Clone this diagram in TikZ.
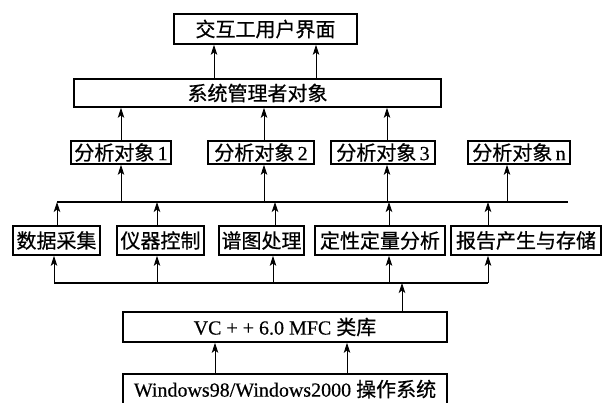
\documentclass[tikz,border=0pt]{standalone}
\usepackage{fontspec}
\setmainfont{Liberation Serif}
\newfontfamily\cjk[FakeBold=0.6]{Noto Sans CJK SC}
\newfontfamily\latinb[FakeBold=0.4]{Liberation Serif}
\usetikzlibrary{arrows.meta}
\begin{document}
\begin{tikzpicture}[x=1pt,y=-1pt,
  box/.style={draw, line width=1.7pt, inner sep=0pt, fill=white,
    font=\fontsize{20}{20}\selectfont\cjk},
  arr/.style={line width=0.8pt, -{Stealth[length=10pt,width=6.5pt,inset=2.5pt]}},
  busline/.style={line width=1.4pt}]
\clip (0,0) rectangle (604,402);
\fill[white] (0,0) rectangle (604,402);
% boxes
\node[box, minimum width=183pt, minimum height=30pt] (top) at (265.5,29) {交互工用户界面};
\node[box, minimum width=367pt, minimum height=28pt] (sys) at (257.5,93) {系统管理者对象};
\node[box, minimum width=100pt, minimum height=23pt] (A1) at (121,152.5) {分析对象\,{\latinb 1}};
\node[box, minimum width=106pt, minimum height=23pt] (A2) at (261,152.5) {分析对象\,{\latinb 2}};
\node[box, minimum width=104pt, minimum height=23pt] (A3) at (383,152.5) {分析对象\,{\latinb 3}};
\node[box, minimum width=102pt, minimum height=23pt] (An) at (519,152.5) {分析对象\,{\latinb n}};
\node[box, minimum width=87pt, minimum height=29pt] (B1) at (56.5,240.5) {数据采集};
\node[box, minimum width=87pt, minimum height=29pt] (B2) at (160.5,240.5) {仪器控制};
\node[box, minimum width=85pt, minimum height=29pt] (B3) at (261.5,240.5) {谱图处理};
\node[box, minimum width=130pt, minimum height=29pt] (B4) at (380,240.5) {定性定量分析};
\node[box, minimum width=150pt, minimum height=29pt] (B5) at (526,240.5) {报告产生与存储};
\node[box, minimum width=324pt, minimum height=30pt] (mfc) at (285,327) {\latinb VC + + 6.0 MFC {\cjk 类库}};
\node[box, minimum width=324pt, minimum height=30pt] (win) at (285,389) {\latinb Windows98/Windows2000 {\cjk 操作系统}};
% buses
\coordinate (b1L) at (57,202);
\coordinate (b1R) at (568,202);
\coordinate (b2L) at (54,283);
\coordinate (b2R) at (488,283);
\draw[busline] (b1L) -- (b1R);
\draw[busline] (b2L) -- (b2R);
% sys -> top
\draw[arr] (214,0 |- sys.north) -- (214,0 |- top.south);
\draw[arr] (316,0 |- sys.north) -- (316,0 |- top.south);
% A -> sys
\draw[arr] (121,0 |- A1.north) -- (121,0 |- sys.south);
\draw[arr] (264,0 |- A2.north) -- (264,0 |- sys.south);
\draw[arr] (387,0 |- A3.north) -- (387,0 |- sys.south);
% bus1 -> A
\draw[arr] (121,0 |- b1L) -- (121,0 |- A1.south);
\draw[arr] (264,0 |- b1L) -- (264,0 |- A2.south);
\draw[arr] (387,0 |- b1L) -- (387,0 |- A3.south);
\draw[arr] (507,0 |- b1L) -- (507,0 |- An.south);
% B -> bus1
\draw[arr] (57,0 |- B1.north) -- (b1L);
\draw[arr] (157,0 |- B2.north) -- (157,0 |- b1L);
\draw[arr] (275,0 |- B3.north) -- (275,0 |- b1L);
\draw[arr] (389,0 |- B4.north) -- (389,0 |- b1L);
\draw[arr] (488,0 |- B5.north) -- (488,0 |- b1L);
% bus2 -> B
\draw[arr] (b2L) -- (54,0 |- B1.south);
\draw[arr] (157,0 |- b2L) -- (157,0 |- B2.south);
\draw[arr] (273,0 |- b2L) -- (273,0 |- B3.south);
\draw[arr] (389,0 |- b2L) -- (389,0 |- B4.south);
\draw[arr] (b2R) -- (488,0 |- B5.south);
% mfc -> bus2
\draw[arr] (402,0 |- mfc.north) -- (402,0 |- b2L);
% win -> mfc
\draw[arr] (215,0 |- win.north) -- (215,0 |- mfc.south);
\draw[arr] (347,0 |- win.north) -- (347,0 |- mfc.south);
\end{tikzpicture}
\end{document}
